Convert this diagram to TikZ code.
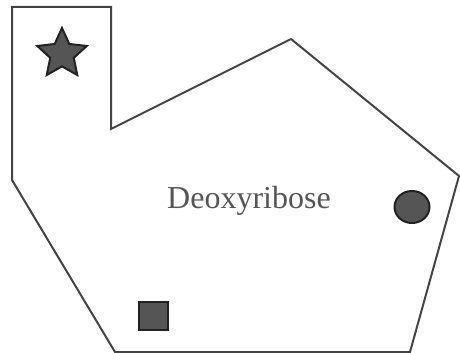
\documentclass[tikz,border=0pt]{standalone}
\usepackage{fontspec}
\setmainfont{Liberation Serif}
\usetikzlibrary{shapes.geometric}
\definecolor{edge}{HTML}{444444}
\definecolor{fillg}{HTML}{555555}
\definecolor{outl}{HTML}{222222}
\definecolor{txt}{HTML}{555555}
\tikzset{
  outline/.style={draw=edge, line width=2pt, line join=miter},
  marker/.style={draw=outl, fill=fillg, line width=2pt, inner sep=0pt},
}
\begin{document}
\begin{tikzpicture}[x=1pt,y=-1pt]
\useasboundingbox (0,0) rectangle (460,353);
\draw[outline] (12,7) -- (111,7) -- (111,129) -- (291,39) -- (459,176) -- (410,352) -- (115,352) -- (12,180) -- cycle;
\node[marker, star, star points=5, star point ratio=2.1, minimum size=52pt] (star) at (62,54) {};
\node[marker, ellipse, minimum width=35pt, minimum height=32pt] (circ) at (412,207) {};
\node[marker, rectangle, minimum width=29pt, minimum height=28pt] (sq) at (153,316) {};
\node[text=txt, font=\fontsize{32}{38}\selectfont] (lbl) at (249,201) {Deoxyribose};
\end{tikzpicture}
\end{document}
